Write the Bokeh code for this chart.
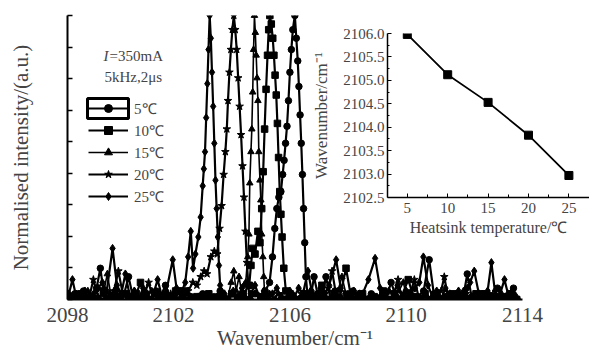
from bokeh.plotting import figure
from bokeh.layouts import column
from bokeh.models import (Range1d, FixedTicker, Legend, LegendItem, Label, GridBox, BoxAnnotation,
                          CustomLabelingPolicy, PrintfTickFormatter)
from bokeh.embed import file_html
from bokeh.resources import INLINE

FONT = "Liberation Serif"

# ---- spectra (wavenumber cm^-1, normalised intensity) ----
spec_5C = [(2098.40,0.00),(2098.60,0.02),(2098.75,0.00),(2098.90,0.03),(2099.05,0.01),(2099.20,0.00),(2099.35,0.04),(2099.48,0.11),(2099.60,0.02),(2099.80,0.00),(2100.00,0.03),(2100.15,0.01),(2100.30,0.02),(2100.45,0.08),(2100.60,0.01),(2100.80,0.00),(2101.00,0.02),(2101.20,0.00),(2101.40,0.03),(2101.55,0.01),(2101.72,0.05),(2101.90,0.00),(2102.05,0.02),(2102.24,0.03),(2102.40,0.00),(2102.60,0.01),(2102.80,0.00),(2103.00,0.02),(2103.20,0.00),(2103.40,0.01),(2103.60,0.03),(2103.80,0.00),(2104.00,0.02),(2104.20,0.00),(2104.40,0.01),(2104.60,0.00),(2104.80,0.02),(2105.00,0.01),(2105.15,0.03),(2105.30,0.06),(2105.40,0.15),(2105.48,0.25),(2105.55,0.32),(2105.62,0.36),(2105.69,0.38),(2105.75,0.44),(2105.80,0.49),(2105.85,0.55),(2105.90,0.61),(2105.95,0.70),(2106.00,0.80),(2106.05,0.88),(2106.10,0.95),(2106.17,1.00),(2106.22,0.92),(2106.27,0.84),(2106.31,0.75),(2106.35,0.65),(2106.39,0.55),(2106.43,0.44),(2106.47,0.32),(2106.51,0.20),(2106.55,0.08),(2106.60,0.02),(2106.70,0.00),(2106.83,0.08),(2106.95,0.02),(2107.10,0.01),(2107.24,0.08),(2107.40,0.00),(2107.55,0.03),(2107.70,0.01),(2107.85,0.00),(2108.00,0.02),(2108.17,0.03),(2108.35,0.00),(2108.50,0.01),(2108.65,0.00),(2108.80,0.02),(2109.00,0.00),(2109.15,0.01),(2109.30,0.00),(2109.48,0.06),(2109.65,0.01),(2109.80,0.00),(2110.00,0.02),(2110.20,0.00),(2110.40,0.01),(2110.60,0.03),(2110.79,0.14),(2110.95,0.02),(2111.15,0.00),(2111.35,0.01),(2111.55,0.00),(2111.75,0.02),(2111.95,0.00),(2112.10,0.09),(2112.25,0.01),(2112.45,0.00),(2112.65,0.02),(2112.85,0.00),(2113.00,0.01),(2113.14,0.04),(2113.30,0.00),(2113.50,0.01),(2113.69,0.04),(2113.80,0.00)]

spec_10C = [(2098.42,0.01),(2098.62,0.00),(2098.80,0.02),(2099.00,0.00),(2099.18,0.01),(2099.38,0.00),(2099.58,0.03),(2099.78,0.00),(2099.98,0.01),(2100.18,0.00),(2100.38,0.02),(2100.58,0.00),(2100.72,0.02),(2100.86,0.06),(2101.00,0.01),(2101.20,0.00),(2101.40,0.02),(2101.60,0.00),(2101.80,0.01),(2102.07,0.03),(2102.20,0.03),(2102.30,0.02),(2102.41,0.03),(2102.60,0.00),(2102.80,0.01),(2103.00,0.00),(2103.21,0.02),(2103.40,0.00),(2103.60,0.01),(2103.80,0.00),(2104.00,0.02),(2104.20,0.00),(2104.40,0.02),(2104.60,0.05),(2104.66,0.12),(2104.72,0.18),(2104.80,0.16),(2104.90,0.24),(2104.97,0.20),(2105.03,0.32),(2105.08,0.45),(2105.13,0.60),(2105.18,0.74),(2105.23,0.86),(2105.27,0.95),(2105.31,1.00),(2105.36,0.97),(2105.41,0.92),(2105.45,0.86),(2105.49,0.79),(2105.53,0.72),(2105.57,0.62),(2105.61,0.50),(2105.65,0.38),(2105.69,0.30),(2105.73,0.22),(2105.79,0.11),(2105.86,0.03),(2105.95,0.00),(2106.10,0.01),(2106.30,0.00),(2106.50,0.02),(2106.70,0.00),(2106.90,0.01),(2107.10,0.05),(2107.30,0.00),(2107.50,0.02),(2107.70,0.00),(2107.93,0.11),(2108.10,0.01),(2108.30,0.00),(2108.50,0.02),(2108.70,0.00),(2108.90,0.01),(2109.05,0.00),(2109.21,0.03),(2109.40,0.00),(2109.60,0.02),(2109.80,0.00),(2110.07,0.07),(2110.25,0.01),(2110.45,0.00),(2110.65,0.02),(2110.85,0.00),(2111.05,0.01),(2111.25,0.00),(2111.45,0.01),(2111.62,0.02),(2111.80,0.00),(2112.00,0.01),(2112.20,0.00),(2112.40,0.02),(2112.62,0.02),(2112.80,0.00),(2113.00,0.01),(2113.20,0.00),(2113.40,0.01),(2113.62,0.02),(2113.80,0.00)]

spec_15C = [(2098.45,0.00),(2098.65,0.02),(2098.85,0.00),(2099.05,0.03),(2099.25,0.01),(2099.45,0.00),(2099.60,0.03),(2099.72,0.09),(2099.85,0.01),(2100.05,0.00),(2100.25,0.02),(2100.45,0.00),(2100.65,0.03),(2100.85,0.00),(2101.05,0.01),(2101.25,0.03),(2101.45,0.00),(2101.65,0.02),(2101.85,0.00),(2102.05,0.01),(2102.25,0.00),(2102.45,0.02),(2102.65,0.00),(2102.85,0.01),(2103.05,0.00),(2103.25,0.02),(2103.45,0.00),(2103.65,0.03),(2103.85,0.00),(2103.98,0.06),(2104.07,0.10),(2104.15,0.03),(2104.25,0.08),(2104.35,0.02),(2104.42,0.05),(2104.48,0.06),(2104.55,0.15),(2104.59,0.23),(2104.62,0.41),(2104.66,0.52),(2104.69,0.60),(2104.72,0.73),(2104.75,0.88),(2104.78,1.00),(2104.81,0.94),(2104.84,0.86),(2104.87,0.78),(2104.90,0.70),(2104.93,0.52),(2104.97,0.42),(2105.00,0.35),(2105.03,0.23),(2105.07,0.15),(2105.10,0.08),(2105.14,0.00),(2105.30,0.02),(2105.50,0.00),(2105.70,0.01),(2105.90,0.00),(2106.10,0.02),(2106.30,0.00),(2106.50,0.01),(2106.70,0.03),(2106.90,0.00),(2107.10,0.02),(2107.30,0.00),(2107.50,0.01),(2107.65,0.03),(2107.79,0.08),(2107.95,0.01),(2108.15,0.00),(2108.35,0.02),(2108.55,0.00),(2108.75,0.01),(2108.95,0.00),(2109.15,0.02),(2109.35,0.00),(2109.55,0.01),(2109.75,0.03),(2109.90,0.06),(2110.05,0.00),(2110.25,0.01),(2110.45,0.00),(2110.65,0.02),(2110.85,0.00),(2111.10,0.02),(2111.30,0.00),(2111.50,0.01),(2111.70,0.00),(2111.97,0.03),(2112.15,0.00),(2112.35,0.02),(2112.55,0.00),(2112.75,0.01),(2112.95,0.00),(2113.15,0.01),(2113.28,0.02),(2113.45,0.00),(2113.65,0.01),(2113.80,0.00)]

spec_20C = [(2098.48,0.01),(2098.68,0.00),(2098.88,0.02),(2099.08,0.00),(2099.24,0.07),(2099.40,0.01),(2099.60,0.00),(2099.80,0.02),(2099.95,0.03),(2100.10,0.10),(2100.25,0.02),(2100.45,0.00),(2100.65,0.01),(2100.85,0.00),(2101.00,0.02),(2101.14,0.06),(2101.30,0.00),(2101.50,0.01),(2101.70,0.00),(2101.90,0.02),(2102.10,0.00),(2102.30,0.02),(2102.50,0.03),(2102.66,0.06),(2102.80,0.05),(2102.93,0.08),(2103.05,0.10),(2103.15,0.09),(2103.28,0.15),(2103.40,0.17),(2103.50,0.16),(2103.58,0.25),(2103.65,0.33),(2103.72,0.44),(2103.78,0.52),(2103.83,0.60),(2103.87,0.70),(2103.92,0.80),(2103.97,0.88),(2104.02,0.95),(2104.07,1.00),(2104.12,0.95),(2104.17,0.88),(2104.22,0.78),(2104.27,0.68),(2104.32,0.58),(2104.37,0.47),(2104.42,0.36),(2104.47,0.24),(2104.52,0.13),(2104.57,0.05),(2104.62,0.00),(2104.80,0.02),(2105.00,0.00),(2105.20,0.01),(2105.40,0.00),(2105.60,0.02),(2105.80,0.00),(2106.00,0.01),(2106.20,0.00),(2106.40,0.02),(2106.60,0.00),(2106.80,0.01),(2107.00,0.00),(2107.20,0.02),(2107.32,0.04),(2107.45,0.10),(2107.60,0.01),(2107.80,0.00),(2108.00,0.01),(2108.20,0.00),(2108.40,0.02),(2108.60,0.00),(2108.80,0.01),(2109.00,0.00),(2109.20,0.02),(2109.40,0.00),(2109.58,0.02),(2109.72,0.07),(2109.85,0.00),(2110.05,0.01),(2110.17,0.03),(2110.28,0.07),(2110.45,0.00),(2110.65,0.01),(2110.85,0.00),(2111.05,0.02),(2111.20,0.03),(2111.31,0.08),(2111.45,0.00),(2111.65,0.01),(2111.85,0.00),(2112.05,0.02),(2112.25,0.00),(2112.45,0.01),(2112.65,0.00),(2112.85,0.02),(2113.05,0.00),(2113.25,0.01),(2113.45,0.00),(2113.65,0.02),(2113.80,0.00)]

spec_25C = [(2098.40,0.02),(2098.52,0.07),(2098.65,0.01),(2098.80,0.00),(2098.95,0.03),(2099.10,0.00),(2099.25,0.02),(2099.40,0.04),(2099.55,0.06),(2099.70,0.03),(2099.90,0.18),(2100.05,0.05),(2100.20,0.02),(2100.34,0.09),(2100.50,0.01),(2100.65,0.03),(2100.80,0.00),(2100.95,0.04),(2101.10,0.02),(2101.25,0.00),(2101.45,0.07),(2101.60,0.01),(2101.75,0.03),(2101.97,0.14),(2102.10,0.04),(2102.25,0.02),(2102.40,0.06),(2102.50,0.15),(2102.59,0.24),(2102.67,0.11),(2102.75,0.16),(2102.85,0.22),(2102.93,0.29),(2103.00,0.40),(2103.04,0.46),(2103.08,0.52),(2103.12,0.64),(2103.16,0.76),(2103.20,0.88),(2103.24,1.00),(2103.28,0.92),(2103.32,0.80),(2103.36,0.68),(2103.40,0.55),(2103.44,0.42),(2103.48,0.32),(2103.52,0.22),(2103.56,0.12),(2103.60,0.05),(2103.65,0.00),(2103.75,0.02),(2103.90,0.00),(2104.05,0.03),(2104.20,0.01),(2104.35,0.04),(2104.50,0.00),(2104.65,0.02),(2104.80,0.05),(2104.95,0.01),(2105.10,0.03),(2105.25,0.00),(2105.40,0.02),(2105.55,0.04),(2105.70,0.01),(2105.85,0.00),(2106.00,0.03),(2106.15,0.01),(2106.30,0.04),(2106.45,0.02),(2106.62,0.10),(2106.75,0.03),(2106.90,0.01),(2107.05,0.04),(2107.20,0.02),(2107.35,0.05),(2107.59,0.14),(2107.75,0.04),(2107.90,0.02),(2108.05,0.00),(2108.20,0.03),(2108.35,0.01),(2108.50,0.02),(2108.70,0.07),(2108.93,0.145),(2109.10,0.04),(2109.25,0.01),(2109.40,0.03),(2109.55,0.02),(2109.70,0.05),(2109.85,0.01),(2110.00,0.03),(2110.15,0.02),(2110.30,0.04),(2110.45,0.06),(2110.59,0.15),(2110.75,0.05),(2110.90,0.01),(2111.05,0.03),(2111.20,0.00),(2111.35,0.04),(2111.50,0.02),(2111.65,0.01),(2111.80,0.03),(2111.95,0.00),(2112.10,0.04),(2112.20,0.06),(2112.34,0.10),(2112.50,0.02),(2112.65,0.01),(2112.80,0.03),(2112.93,0.13),(2113.05,0.03),(2113.20,0.01),(2113.38,0.07),(2113.50,0.02),(2113.65,0.03),(2113.78,0.01)]

series_labels = ["5℃", "10℃", "15℃", "20℃", "25℃"]
series_markers = ["circle", "square", "triangle", "star", "diamond"]
series_data = [spec_5C, spec_10C, spec_15C, spec_20C, spec_25C]

# inset: peak wavenumber vs heatsink temperature
heatsink_T = [5, 10, 15, 20, 25]
peak_wn = [2105.98, 2105.12, 2104.53, 2103.83, 2102.97]

x_ticks = [2098.35, 2102, 2106, 2110, 2114]
x_tick_labels = {2098.35: "2098", 2102: "2102", 2106: "2106", 2110: "2110", 2114: "2114"}
y_ticks = [k / 9 for k in range(10)]

# ---------------- main plot ----------------
main = figure(width=589, height=356, output_backend="svg", toolbar_location=None,
              x_range=Range1d(2098.35, 2114.0), y_range=Range1d(0, 1.0),
              min_border_left=67, min_border_right=67, min_border_top=15, min_border_bottom=57,
              x_axis_label="Wavenumber/cm⁻¹", y_axis_label="Normalised intensity/(a.u.)")
main.grid.visible = False
main.outline_line_color = None
main.background_fill_color = "white"
main.border_fill_color = "white"

xa = main.xaxis[0]
xa.ticker = FixedTicker(ticks=x_ticks)
xa.major_label_overrides = x_tick_labels
xa.major_tick_in = 0
xa.major_tick_out = 0
xa.minor_tick_in = 0
xa.minor_tick_out = 0
xa.axis_line_width = 2
xa.major_label_text_font = FONT
xa.major_label_text_font_size = "21px"
xa.major_label_standoff = 8
xa.axis_label_text_font = FONT
xa.axis_label_text_font_size = "21px"
xa.axis_label_text_font_style = "normal"
xa.axis_label_standoff = 1

ya = main.yaxis[0]
ya.ticker = FixedTicker(ticks=y_ticks)
ya.major_label_overrides = {t: "" for t in y_ticks}
ya.major_tick_in = 5
ya.major_tick_out = 0
ya.minor_tick_in = 0
ya.minor_tick_out = 0
ya.axis_line_width = 2
ya.major_tick_line_width = 1.5
ya.major_label_policy = CustomLabelingPolicy(code="""
    for (const i of Array.from(indices)) indices.unset(i)
    return indices
""")
ya.major_label_standoff = 0
ya.axis_label_text_font = FONT
ya.axis_label_text_font_size = "21px"
ya.axis_label_text_font_style = "normal"
ya.axis_label_standoff = 35

items = []
widths = [2.2, 2.2, 1.6, 2.2, 2.2]
for lab, mk, data, lw in zip(series_labels, series_markers, series_data, widths):
    xs = [d[0] for d in data]
    ys = [d[1] for d in data]
    ln = main.line(xs, ys, line_color="black", line_width=lw)
    sz = 8 if mk in ("star", "diamond") else 6.5
    sc = main.scatter(xs, ys, marker=mk, size=sz, fill_color="black", line_color="black")
    items.append(LegendItem(label=lab, renderers=[ln, sc]))

legend = Legend(items=items, location=(21, 93), label_text_font=FONT, label_text_font_size="15px",
                glyph_width=40, glyph_height=20, spacing=2, padding=0, margin=0,
                border_line_color=None, background_fill_alpha=0, label_standoff=6)
main.add_layout(legend)

# highlighted frame around the first legend entry (screen units, from frame's bottom-left)
main.add_layout(BoxAnnotation(left=20, right=61, bottom=181, top=201,
                              left_units="screen", right_units="screen",
                              top_units="screen", bottom_units="screen",
                              fill_alpha=0, line_color="black", line_alpha=1, line_width=3))

main.add_layout(Label(x=2099.59, y=0.859, text="I", text_font=FONT, text_font_size="15px",
                      text_font_style="italic", text_baseline="alphabetic"))
main.add_layout(Label(x=2099.59, y=0.859, x_offset=6, text="=350mA", text_font=FONT,
                      text_font_size="15px", text_baseline="alphabetic"))
main.add_layout(Label(x=2099.62, y=0.785, text="5kHz,2μs", text_font=FONT,
                      text_font_size="15px", text_baseline="alphabetic"))

# ---------------- inset ----------------
inset = figure(width=284, height=245, output_backend="svg", toolbar_location=None,
               x_range=Range1d(2.55, 27.55), y_range=Range1d(2102.5, 2106.0),
               min_border_left=82, min_border_right=0, min_border_top=33, min_border_bottom=48,
               x_axis_label="Heatsink temperature/℃", y_axis_label="Wavenumber/cm⁻¹")
inset.grid.visible = False
inset.outline_line_color = None
inset.background_fill_alpha = 0
inset.border_fill_alpha = 0

ix = inset.xaxis[0]
ix.ticker = FixedTicker(ticks=heatsink_T, minor_ticks=[7.5, 12.5, 17.5, 22.5, 27.5])
ix.major_tick_in = 4
ix.major_tick_out = 0
ix.minor_tick_in = 3
ix.minor_tick_out = 0
ix.axis_line_width = 1.5
ix.major_label_text_font = FONT
ix.major_label_text_font_size = "15px"
ix.major_label_standoff = 5
ix.axis_label_text_font = FONT
ix.axis_label_text_font_size = "16px"
ix.axis_label_text_font_style = "normal"
ix.axis_label_standoff = 3

iy = inset.yaxis[0]
iy.ticker = FixedTicker(ticks=[2102.5, 2103.0, 2103.5, 2104.0, 2104.5, 2105.0, 2105.5, 2106.0],
                        minor_ticks=[2102.75, 2103.25, 2103.75, 2104.25, 2104.75, 2105.25, 2105.75])
iy.formatter = PrintfTickFormatter(format="%.1f")
iy.major_tick_in = 4
iy.major_tick_out = 0
iy.minor_tick_in = 2
iy.minor_tick_out = 0
iy.axis_line_width = 1.5
iy.major_label_text_font = FONT
iy.major_label_text_font_size = "15px"
iy.major_label_standoff = 3
iy.axis_label_text_font = FONT
iy.axis_label_text_font_size = "17px"
iy.axis_label_text_font_style = "normal"
iy.axis_label_standoff = 9

inset.line(heatsink_T, peak_wn, line_color="black", line_width=1.8)
inset.scatter(heatsink_T, peak_wn, marker="square", size=8, fill_color="black", line_color="black")

main_box = column(main)
inset_box = column(inset)
inset_box.margin = (0, 0, 0, 305)

layout = GridBox(children=[(main_box, 0, 0), (inset_box, 0, 0)])

open("out.html", "w").write(file_html(layout, INLINE))
